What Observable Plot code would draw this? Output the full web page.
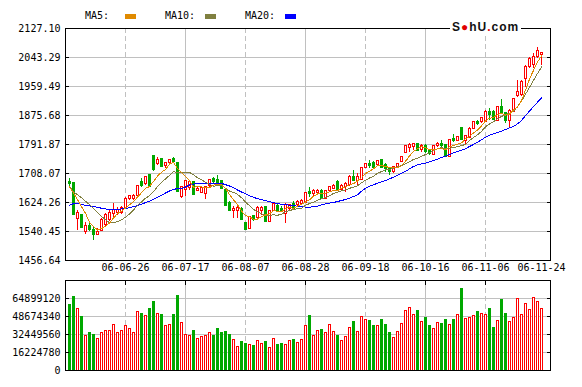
<!DOCTYPE html>
<html><head><meta charset="utf-8">
<script src="https://cdn.jsdelivr.net/npm/d3@7"></script>
<script src="https://cdn.jsdelivr.net/npm/@observablehq/plot@0.6"></script>
<style>
body{margin:0;background:#fff;}
#wrap{position:relative;width:582px;height:387px;overflow:hidden;background:#fff;font-family:"DejaVu Sans Mono",monospace;}
#wrap svg{display:block;}
.lg{position:absolute;top:11px;font-size:10px;line-height:10px;color:#000;}
.sw{position:absolute;top:14px;width:11px;height:5px;}
#logo{position:absolute;left:450px;top:21px;height:13px;padding:0 2px;background:#fff;font:bold 12px "Liberation Sans",sans-serif;line-height:13px;color:#111;letter-spacing:1px;}
</style></head><body><div id="wrap"></div>
<script>
const opens = [1684.4,1680.5,1576.8,1587.4,1538.4,1556.7,1544.2,1531.7,1541.3,1558.6,1573.0,1590.3,1595.1,1594.1,1606.6,1635.4,1634.4,1644.0,1682.4,1676.7,1703.6,1758.3,1736.2,1748.7,1728.5,1738.1,1748.7,1738.1,1640.2,1661.3,1667.1,1683.4,1657.5,1651.7,1649.8,1670.9,1691.1,1688.2,1686.3,1661.3,1623.9,1599.9,1598.9,1606.6,1565.3,1549.0,1584.5,1580.7,1599.9,1611.4,1568.2,1598.9,1614.3,1606.6,1590.3,1604.7,1621.0,1616.2,1619.1,1623.3,1656.0,1647.4,1651.2,1658.9,1634.9,1658.9,1663.8,1684.9,1661.8,1668.6,1673.4,1697.5,1687.8,1689.8,1724.4,1734.1,1737.9,1731.2,1747.5,1731.2,1724.4,1711.9,1724.4,1740.8,1766.8,1782.3,1784.2,1791.9,1776.5,1786.1,1774.5,1762.0,1786.1,1793.8,1789.0,1755.3,1808.3,1803.4,1840.0,1803.4,1811.1,1837.1,1858.3,1856.4,1856.4,1887.2,1887.2,1861.2,1899.8,1882.4,1861.2,1887.2,1930.6,1933.5,1981.6,2015.4,2020.2,2044.3,2049.1];
const highs = [1693.0,1682.4,1600.8,1588.4,1566.3,1563.4,1550.9,1549.0,1576.8,1592.2,1599.9,1621.0,1608.5,1611.4,1638.3,1645.0,1646.9,1673.8,1694.9,1699.7,1705.5,1760.2,1753.5,1750.6,1740.0,1749.6,1755.4,1740.0,1670.9,1688.2,1688.2,1686.3,1669.0,1670.9,1670.9,1691.1,1697.8,1702.6,1688.2,1664.2,1625.8,1611.4,1611.4,1608.5,1567.2,1584.6,1587.4,1611.4,1613.3,1613.3,1600.8,1622.9,1619.1,1611.4,1621.0,1618.1,1625.8,1628.7,1632.5,1654.1,1668.6,1661.8,1661.8,1661.8,1658.9,1671.5,1675.3,1687.8,1675.3,1683.0,1702.3,1716.7,1707.1,1726.4,1736.0,1745.6,1743.7,1745.6,1749.5,1736.0,1726.4,1728.3,1737.9,1757.2,1789.0,1793.8,1795.7,1793.8,1791.9,1791.9,1776.5,1788.0,1798.6,1803.4,1791.9,1807.3,1820.8,1816.0,1842.0,1817.9,1840.0,1859.3,1861.2,1870.9,1889.2,1894.9,1890.1,1901.7,1920.9,1885.3,1892.0,1924.8,1976.8,1976.8,2020.2,2042.3,2053.9,2073.2,2058.7];
const lows = [1671.9,1586.4,1542.3,1549.0,1531.7,1539.4,1515.4,1527.9,1539.4,1555.7,1568.2,1575.9,1587.4,1590.3,1603.7,1630.6,1628.7,1642.1,1669.0,1674.8,1667.1,1715.1,1731.4,1724.7,1721.8,1736.2,1738.1,1652.7,1635.4,1640.2,1659.4,1645.0,1654.6,1649.8,1632.5,1669.0,1680.5,1673.8,1661.3,1611.4,1597.0,1577.8,1577.8,1571.1,1542.3,1547.1,1570.1,1577.8,1587.4,1566.3,1565.3,1597.0,1594.1,1597.0,1563.4,1601.8,1603.7,1611.4,1616.2,1620.4,1639.7,1639.7,1649.3,1632.0,1632.0,1656.0,1660.9,1656.0,1658.9,1654.1,1671.5,1685.9,1671.5,1687.8,1722.5,1721.5,1721.5,1728.3,1721.5,1711.9,1702.3,1707.1,1722.5,1738.9,1764.9,1769.7,1774.5,1772.6,1769.7,1766.8,1760.1,1760.1,1784.2,1782.3,1753.3,1753.3,1798.6,1800.5,1803.4,1789.0,1809.2,1834.3,1846.8,1853.5,1854.5,1861.2,1861.2,1859.3,1880.5,1851.6,1840.0,1885.3,1928.7,1930.6,1957.6,2010.5,2010.5,2039.4,2020.2];
const closes = [1677.6,1587.4,1594.1,1551.9,1555.7,1546.1,1529.8,1538.4,1574.9,1587.4,1594.1,1601.8,1601.8,1608.5,1635.4,1642.1,1642.1,1671.9,1670.9,1697.8,1669.0,1717.0,1747.7,1726.6,1738.1,1747.7,1741.9,1654.6,1669.0,1686.3,1684.4,1646.9,1664.2,1667.1,1669.0,1688.2,1683.4,1676.7,1664.2,1614.3,1598.9,1606.6,1607.6,1573.0,1544.2,1582.6,1573.0,1608.5,1608.5,1568.2,1598.9,1621.0,1597.0,1598.9,1618.1,1616.2,1606.6,1625.8,1628.7,1652.2,1647.4,1657.0,1658.9,1634.9,1657.0,1668.6,1672.4,1658.9,1672.4,1676.3,1697.5,1687.8,1697.5,1723.5,1734.1,1728.3,1724.4,1743.7,1724.4,1721.5,1711.9,1726.4,1736.0,1755.3,1786.1,1789.0,1791.9,1774.5,1786.1,1769.7,1763.0,1786.1,1793.8,1786.1,1755.3,1805.4,1803.4,1813.1,1805.4,1815.0,1837.1,1856.4,1851.6,1868.9,1887.2,1875.7,1863.2,1899.8,1882.4,1861.2,1890.1,1922.9,1943.1,1973.9,2015.4,2039.4,2044.3,2063.5,2056.8];
const volumes = [58900000,66100000,55000000,47800000,31500000,33600000,32400000,28800000,34200000,36000000,36000000,40600000,33400000,35200000,39700000,37000000,33400000,52300000,50500000,48700000,55000000,61300000,50500000,49600000,39700000,40600000,49600000,67600000,42400000,32400000,31500000,35200000,28500000,30600000,31500000,34000000,31500000,37000000,33400000,34300000,32400000,27600000,21600000,26100000,24300000,23400000,22500000,27000000,24300000,26100000,20700000,28800000,23400000,24300000,23400000,27000000,27900000,25200000,27900000,39700000,48700000,31500000,35200000,36100000,33400000,40600000,34300000,31500000,27000000,30600000,37900000,43300000,34300000,47800000,45100000,44200000,39700000,39700000,45100000,40600000,33400000,29700000,34300000,41500000,53200000,55900000,49600000,53200000,43300000,46900000,39700000,37000000,42400000,41500000,45100000,40600000,45100000,49600000,73900000,46000000,46900000,48700000,52300000,50500000,49600000,55000000,37900000,44200000,63100000,50500000,43300000,46900000,64000000,49600000,59500000,54100000,64900000,61300000,55000000];
const ma5 = [1669,1652,1633,1612,1593.3,1567.0,1555.5,1544.4,1549.0,1555.3,1564.9,1579.3,1592.0,1598.7,1608.3,1617.9,1626.0,1640.0,1652.5,1665.0,1670.3,1685.3,1700.5,1711.6,1719.7,1735.4,1740.4,1721.8,1710.3,1699.9,1687.2,1668.2,1670.2,1669.8,1666.3,1667.1,1674.4,1676.9,1676.3,1665.4,1647.5,1632.1,1618.3,1600.1,1586.1,1582.8,1576.1,1576.3,1583.4,1588.2,1591.4,1601.0,1598.7,1596.8,1606.8,1610.2,1607.4,1613.1,1619.1,1625.9,1632.1,1642.2,1648.8,1650.1,1651.0,1655.3,1658.4,1658.4,1665.9,1669.7,1675.5,1678.6,1686.3,1696.5,1708.1,1714.2,1721.6,1730.8,1731.0,1728.5,1725.2,1725.6,1724.0,1730.2,1743.1,1758.6,1771.7,1779.4,1785.5,1782.2,1777.0,1775.9,1779.7,1779.7,1776.9,1785.3,1788.8,1792.7,1796.5,1808.5,1814.8,1825.4,1833.1,1845.8,1860.2,1868.0,1869.3,1879.0,1881.7,1876.5,1879.3,1891.3,1899.9,1918.2,1949.1,1980.9,2006.2,2030.3,2047.9];
const ma10 = [1671,1655,1647,1638,1628,1618,1607,1595,1584,1574.3,1566.0,1567.4,1568.2,1573.9,1581.8,1591.4,1602.7,1616.0,1625.6,1636.6,1644.1,1655.7,1670.2,1682.1,1692.3,1702.9,1712.9,1711.1,1710.9,1709.8,1711.3,1704.3,1696.0,1690.0,1683.1,1677.2,1671.3,1673.5,1673.0,1665.8,1657.3,1653.3,1647.6,1638.2,1625.7,1615.2,1604.1,1597.3,1591.7,1587.1,1587.1,1588.6,1587.5,1590.1,1597.5,1600.8,1604.2,1605.9,1607.9,1616.3,1621.2,1624.8,1631.0,1634.6,1638.5,1643.7,1650.3,1653.6,1658.0,1660.4,1665.4,1668.5,1672.3,1681.2,1688.9,1694.9,1700.1,1708.6,1713.8,1718.3,1719.7,1723.6,1727.4,1730.6,1735.8,1741.9,1748.6,1751.7,1757.9,1762.7,1767.8,1773.8,1779.6,1782.6,1779.6,1781.2,1782.3,1786.2,1788.1,1792.7,1803.0,1812.0,1820.0,1830.0,1843.0,1851.0,1858.0,1866.0,1873.0,1878.0,1882.0,1888.0,1902.0,1918.0,1937.0,1957.0,1977.0,1997.0,2016.0];
const ma20 = [1616.2,1621.0,1621.0,1619.1,1616.2,1614.3,1612.4,1610.4,1607.6,1605.6,1604.7,1604.7,1604.7,1605.6,1606.6,1609.5,1612.4,1615.2,1619.1,1623.9,1627.7,1633.5,1639.2,1645.0,1651.7,1657.5,1662.3,1664.2,1664.2,1669.0,1674.8,1677.6,1678.6,1678.6,1678.6,1679.6,1680.5,1680.5,1679.6,1675.7,1671.9,1667.1,1660.4,1654.6,1649.8,1644.0,1639.2,1635.4,1632.5,1629.6,1626.8,1623.9,1621.0,1619.1,1618.1,1616.2,1615.2,1613.3,1613.3,1610.8,1610.8,1611.7,1613.7,1617.5,1620.4,1622.3,1624.3,1627.1,1630.0,1632.9,1636.8,1641.6,1646.4,1657.0,1665.7,1671.5,1675.3,1680.1,1684.0,1687.8,1692.6,1697.5,1702.3,1709.0,1713.9,1721.5,1728.3,1733.1,1736.0,1737.9,1741.8,1745.6,1749.5,1754.3,1758.2,1763.0,1767.8,1771.6,1775.5,1779.3,1786.1,1791.9,1798.6,1805.4,1813.1,1818.8,1822.7,1826.5,1830.4,1835.2,1840.0,1843.9,1851.6,1861.2,1875.7,1888.2,1901.7,1914.2,1926.7];
const priceTicks = [1456.64,1540.45,1624.26,1708.07,1791.87,1875.68,1959.49,2043.29,2127.10];
const volTicks = [0,16224780,32449560,48674340,64899120];
const tickIdx = [14,29,44,59,74,89,104,118];
const tickLabels = ["06-06-26","06-07-17","06-08-07","06-08-28","06-09-18","06-10-16","06-11-06","06-11-24"];
const solidIdx = [29,59,89];
const dashedIdx = [14,44,74,104];

const RED = "#ff0000", GREEN = "#00a800", GRID = "#c0c0c0";
const n = closes.length;
const candles = d3.range(n).map(i => ({i, o: opens[i], h: highs[i], l: lows[i], c: closes[i], v: volumes[i], up: closes[i] >= opens[i]}));
const lineData = (arr) => arr.map((v, i) => ({i, v}));
const xScale = {type: "linear", domain: [-1, 120.25], axis: null};
const font = {fontFamily: "'DejaVu Sans Mono', monospace", fontSize: "10px", color: "#000", background: "transparent", overflow: "visible"};

const main = Plot.plot({
  width: 582, height: 276, marginTop: 28, marginBottom: 16, marginLeft: 65, marginRight: 32,
  style: font,
  x: xScale,
  y: {domain: [1456.64, 2127.10], axis: null, label: null},
  marks: [
    Plot.gridY(priceTicks, {stroke: GRID, strokeOpacity: 1}),
    Plot.ruleX(solidIdx, {x: d => d, stroke: GRID}),
    Plot.ruleX(dashedIdx, {x: d => d, stroke: GRID, strokeDasharray: "5,3"}),
    Plot.ruleX(candles, {x: "i", y1: "l", y2: "h", stroke: d => d.up ? RED : GREEN, shapeRendering: "crispEdges"}),
    Plot.rect(candles, {x1: d => d.i - 0.25, x2: d => d.i + 0.25, y1: "o", y2: "c", fill: d => d.up ? "#ffffff" : GREEN, stroke: d => d.up ? RED : GREEN, shapeRendering: "crispEdges"}),
    Plot.line(lineData(ma20), {x: "i", y: "v", stroke: "#0000ff", strokeWidth: 1, shapeRendering: "crispEdges"}),
    Plot.line(lineData(ma10), {x: "i", y: "v", stroke: "#808040", strokeWidth: 1, shapeRendering: "crispEdges"}),
    Plot.line(lineData(ma5), {x: "i", y: "v", stroke: "#e08a00", strokeWidth: 1, shapeRendering: "crispEdges"}),
    Plot.frame({stroke: "#000"}),
    Plot.axisY(priceTicks, {anchor: "left", label: null, tickSize: -4, tickPadding: 9, tickFormat: d => d.toFixed(2)}),
    Plot.axisY(priceTicks, {anchor: "right", label: null, tickSize: -4, tickFormat: () => ""}),
    Plot.text(tickIdx, {x: d => d, text: (d, k) => tickLabels[k], frameAnchor: "bottom", dy: 10, fill: "#000"})
  ]
});

const vol = Plot.plot({
  width: 582, height: 111, marginTop: 4, marginBottom: 17, marginLeft: 65, marginRight: 32,
  style: font,
  x: xScale,
  y: {domain: [0, 81123900], axis: null, label: null},
  marks: [
    Plot.gridY(volTicks, {stroke: GRID, strokeOpacity: 1}),
    Plot.ruleX(solidIdx, {x: d => d, stroke: GRID}),
    Plot.ruleX(dashedIdx, {x: d => d, stroke: GRID, strokeDasharray: "5,3"}),
    Plot.rect(candles, {x1: d => d.i - 0.25, x2: d => d.i + 0.25, y1: 0, y2: "v", fill: d => d.up ? "#ffffff" : GREEN, stroke: d => d.up ? RED : GREEN, shapeRendering: "crispEdges"}),
    Plot.frame({stroke: "#000"}),
    Plot.axisY(volTicks, {anchor: "left", label: null, tickSize: -4, tickPadding: 9, tickFormat: d => String(d)}),
    Plot.axisY(volTicks, {anchor: "right", label: null, tickSize: -4, tickFormat: () => ""}),
    Plot.axisX(solidIdx.concat(dashedIdx), {anchor: "top", label: null, tickSize: -4, tickFormat: () => ""})
  ]
});

const wrap = document.getElementById("wrap");
wrap.appendChild(main);
wrap.appendChild(vol);
const legend = [["MA5:", 85, "#e08a00", 125], ["MA10:", 165, "#808040", 205], ["MA20:", 245, "#0000ff", 285]];
for (const [t, x, c, sx] of legend) {
  const s = document.createElement("div"); s.className = "lg"; s.style.left = x + "px"; s.textContent = t; wrap.appendChild(s);
  const w = document.createElement("div"); w.className = "sw"; w.style.left = sx + "px"; w.style.background = c; wrap.appendChild(w);
}
const logo = document.createElement("div");
logo.id = "logo";
logo.innerHTML = 'S<span style="color:#e00000">&#9679;</span>hU<span style="color:#e00000">.</span>com';
wrap.appendChild(logo);
</script></body></html>
